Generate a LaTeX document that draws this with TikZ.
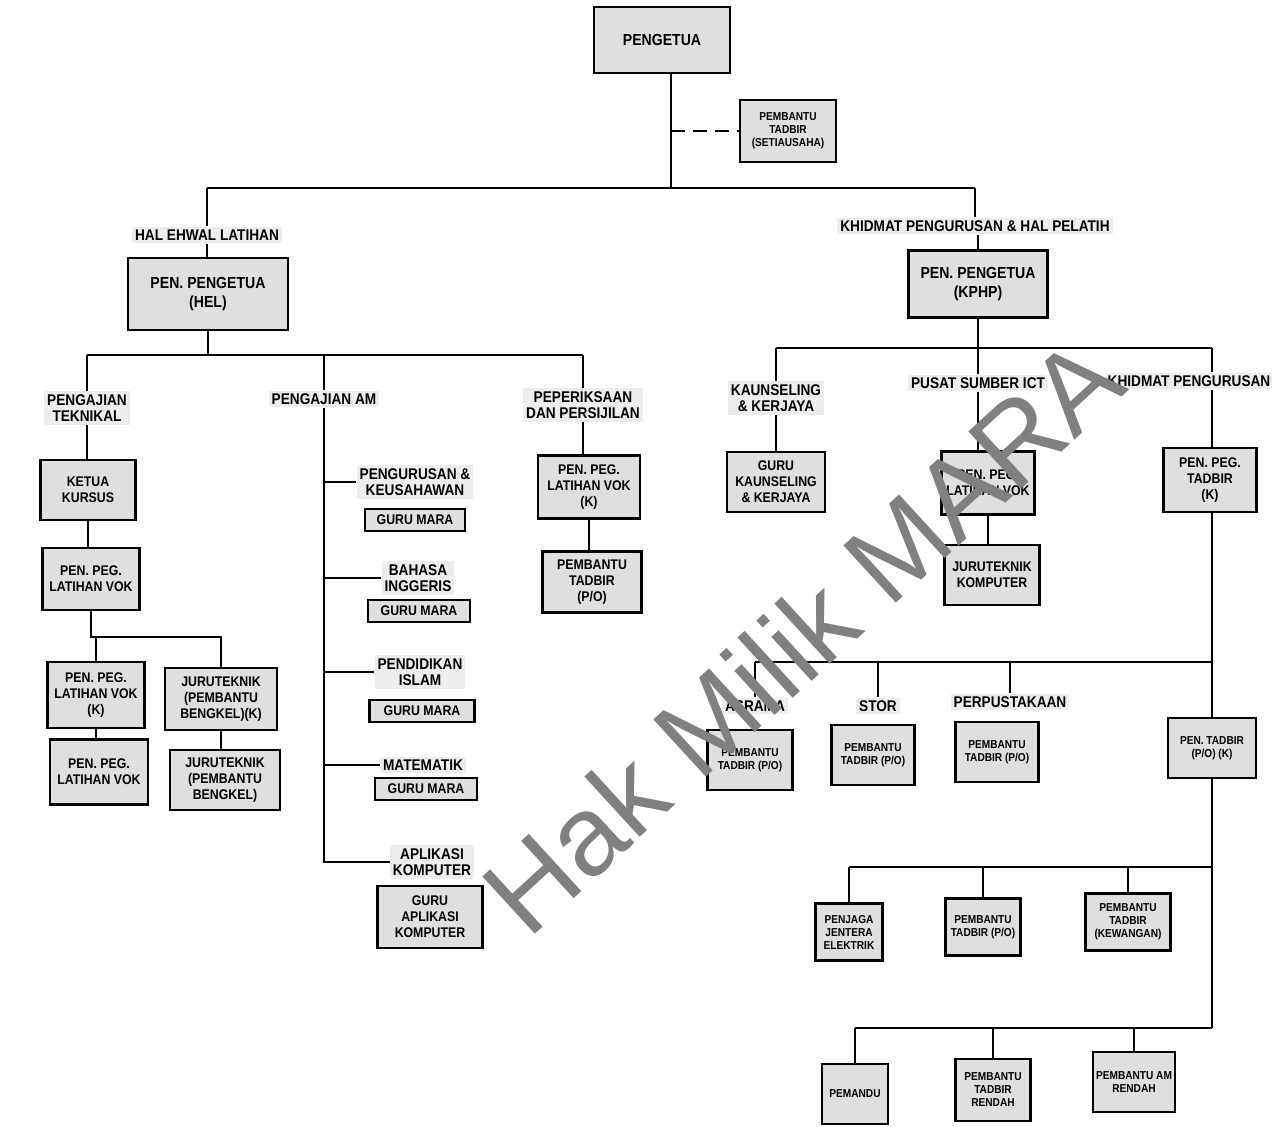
\documentclass[tikz,border=0pt]{standalone}
\usepackage{fontspec}
\setmainfont{Liberation Sans}
\newfontfamily\orgfont[FakeStretch=0.88]{Liberation Sans}
\usepackage{tikz}
\usetikzlibrary{positioning, calc}
\definecolor{tanda}{RGB}{128,128,128}
\tikzset{>=stealth}
\tikzset{
	jawatan/.style 2 args={draw, line width=2.2pt, fill=gray!25, align=center, minimum width=#1, minimum height=#2, inner sep=1pt, font=\orgfont\bfseries\fontsize{14}{16}\selectfont},
	unit/.style={fill=gray!14, align=center, inner sep=3pt, font=\orgfont\bfseries\fontsize{15.5}{16.5}\selectfont},
	besar/.style={font=\orgfont\bfseries\fontsize{16}{19}\selectfont},
	kecil/.style={font=\orgfont\bfseries\fontsize{11.5}{13}\selectfont},
	garis/.style={line width=1.6pt}
}

\begin{document}
\begin{tikzpicture}[x=1pt, y=-1pt]
	\useasboundingbox (0,0) rectangle (1273,1126);

	% pengetua
	\node[jawatan={136}{66}, besar] (pengetua) at (662,40) {PENGETUA};
	\node[jawatan={96}{62}, kecil] (pt0) at (788,131) {PEMBANTU\\TADBIR\\(SETIAUSAHA)};
	\coordinate (batang) at (671,188);
	\draw[garis] (pengetua.south -| batang) -- (batang);
	\draw[garis, dash pattern=on 14pt off 8pt] (batang |- pt0) -- (pt0.west);

	\node[unit] (hal) at (207,235) {HAL EHWAL LATIHAN};
	\node[jawatan={160}{72}, besar] (hel) at (208,294) {PEN. PENGETUA\\(HEL)};
	\node[unit] (khidmat) at (975,226) {KHIDMAT PENGURUSAN \& HAL PELATIH};
	\node[jawatan={139}{67}, besar] (kphp) at (978,284) {PEN. PENGETUA\\(KPHP)};
	\draw[garis] (batang -| hal) -- (batang -| khidmat);
	\draw[garis] (batang -| hal) -- (hal.north);
	\draw[garis] (batang -| khidmat) -- (khidmat.north);
	\draw[garis] (hal.south) -- (hal.south |- hel.north);
	\draw[garis] (khidmat.south -| kphp) -- (kphp.north);

	% hal ehwal latihan
	\coordinate (barhel) at (208,355);
	\node[unit] (teknikal) at (87,408) {PENGAJIAN\\TEKNIKAL};
	\node[unit] (am) at (324,399) {PENGAJIAN AM};
	\node[unit] (periksa) at (583,405) {PEPERIKSAAN\\DAN PERSIJILAN};
	\draw[garis] (hel.south) -- (barhel);
	\draw[garis] (teknikal |- barhel) -- (periksa |- barhel);
	\foreach \u in {teknikal, am, periksa}
		\draw[garis] (\u |- barhel) -- (\u.north);

	\node[jawatan={95}{60}] (ketua) at (88,490) {KETUA\\KURSUS};
	\node[jawatan={97}{62}] (vok1) at (91,579) {PEN. PEG.\\LATIHAN VOK};
	\coordinate (bartek) at (93,637);
	\node[jawatan={97}{66}] (vokk) at (96,695) {PEN. PEG.\\LATIHAN VOK\\(K)};
	\node[jawatan={112}{62}] (jtk) at (221,699) {JURUTEKNIK\\(PEMBANTU\\BENGKEL)(K)};
	\node[jawatan={98}{65}] (vok2) at (99,772) {PEN. PEG.\\LATIHAN VOK};
	\node[jawatan={110}{60}] (jt) at (225,780) {JURUTEKNIK\\(PEMBANTU\\BENGKEL)};
	\draw[garis] (teknikal.south) -- (teknikal.south |- ketua.north);
	\draw[garis] (ketua.south) -- (ketua.south |- vok1.north);
	\draw[garis] (vok1.south) -- (vok1.south |- bartek) -- (jtk.north |- bartek) -- (jtk.north);
	\draw[garis] (vokk.north |- bartek) -- (vokk.north);
	\draw[garis] (vokk.south) -- (vokk.south |- vok2.north);
	\draw[garis] (jtk.south) -- (jtk.south |- jt.north);

	\node[unit] (urus) at (415,482) {PENGURUSAN \&\\KEUSAHAWAN};
	\node[jawatan={100}{22}] (guru1) at (415,520) {GURU MARA};
	\node[unit] (inggeris) at (418,578) {BAHASA\\INGGERIS};
	\node[jawatan={102}{22}] (guru2) at (419,611) {GURU MARA};
	\node[unit] (islam) at (420,672) {PENDIDIKAN\\ISLAM};
	\node[jawatan={105}{22}] (guru3) at (422,711) {GURU MARA};
	\node[unit] (mate) at (423,765) {MATEMATIK};
	\node[jawatan={102}{22}] (guru4) at (426,789) {GURU MARA};
	\node[unit] (aplikasi) at (432,862) {APLIKASI\\KOMPUTER};
	\node[jawatan={105}{62}] (guru5) at (430,917) {GURU\\APLIKASI\\KOMPUTER};
	\draw[garis] (am.south) -- (am.south |- aplikasi) -- (aplikasi.west);
	\foreach \s in {urus, inggeris, islam, mate}
		\draw[garis] (am.south |- \s) -- (\s.west);

	\node[jawatan={102}{63}] (vokp) at (589,487) {PEN. PEG.\\LATIHAN VOK\\(K)};
	\node[jawatan={99}{61}] (ptp) at (592,582) {PEMBANTU\\TADBIR\\(P/O)};
	\draw[garis] (periksa.south) -- (periksa.south |- vokp.north);
	\draw[garis] (vokp.south) -- (vokp.south |- ptp.north);

	% khidmat pengurusan
	\coordinate (barkphp) at (978,348);
	\coordinate (lajur) at (1212,348);
	\node[unit] (kaunseling) at (776,398) {KAUNSELING\\\& KERJAYA};
	\node[unit] (pusat) at (978,383) {PUSAT SUMBER ICT};
	\node[unit, inner xsep=2pt] (khidmat2) at (1189,381) {KHIDMAT PENGURUSAN};
	\draw[garis] (kphp.south) -- (barkphp);
	\draw[garis] (kaunseling.north |- barkphp) -- (lajur);
	\draw[garis] (kaunseling.north |- barkphp) -- (kaunseling.north);
	\draw[garis] (barkphp) -- (pusat.north);
	\draw[garis] (lajur) -- (lajur |- khidmat2.north);

	\node[jawatan={98}{60}] (gkaun) at (776,482) {GURU\\KAUNSELING\\\& KERJAYA};
	\node[jawatan={93}{63}] (vokr) at (988,483) {PEN. PEG.\\LATIHAN VOK};
	\node[jawatan={95}{60}] (jtkomp) at (992,575) {JURUTEKNIK\\KOMPUTER};
	\node[jawatan={93}{64}] (tadbirk) at (1210,480) {PEN. PEG.\\TADBIR\\(K)};
	\draw[garis] (kaunseling.south) -- (kaunseling.south |- gkaun.north);
	\draw[garis] (pusat.south) -- (pusat.south |- vokr.north);
	\draw[garis] (vokr.south) -- (vokr.south |- jtkomp.north);
	\draw[garis] (lajur |- khidmat2.south) -- (lajur |- tadbirk.north);

	\coordinate (barasrama) at (1212,662);
	\node[unit] (asrama) at (755,706) {ASRAMA};
	\node[unit] (stor) at (878,706) {STOR};
	\node[unit] (perpus) at (1010,702) {PERPUSTAKAAN};
	\node[jawatan={85}{60}, kecil] (ptasrama) at (750,760) {PEMBANTU\\TADBIR (P/O)};
	\node[jawatan={83}{60}, kecil] (ptstor) at (873,755) {PEMBANTU\\TADBIR (P/O)};
	\node[jawatan={83}{60}, kecil] (ptperpus) at (997,752) {PEMBANTU\\TADBIR (P/O)};
	\node[jawatan={88}{60}, kecil] (tadbirpo) at (1212,748) {PEN. TADBIR\\(P/O) (K)};
	\draw[garis] (lajur |- tadbirk.south) -- (lajur |- tadbirpo.north);
	\draw[garis] (asrama |- barasrama) -- (barasrama);
	\foreach \u in {asrama, stor, perpus}
		\draw[garis] (\u |- barasrama) -- (\u.north);

	\coordinate (barbengkel) at (1212,867);
	\coordinate (barrendah) at (1212,1028);
	\node[jawatan={67}{57}, kecil] (jentera) at (849,932) {PENJAGA\\JENTERA\\ELEKTRIK};
	\node[jawatan={75}{57}, kecil] (ptpo) at (983,927) {PEMBANTU\\TADBIR (P/O)};
	\node[jawatan={85}{57}, kecil] (ptwang) at (1128,922) {PEMBANTU\\TADBIR\\(KEWANGAN)};
	\node[jawatan={66}{60}, kecil] (pemandu) at (855,1094) {PEMANDU};
	\node[jawatan={75}{62}, kecil] (ptrendah) at (993,1090) {PEMBANTU\\TADBIR\\RENDAH};
	\node[jawatan={82}{60}, kecil] (pam) at (1134,1082) {PEMBANTU AM\\RENDAH};
	\draw[garis] (lajur |- tadbirpo.south) -- (barrendah);
	\draw[garis] (jentera |- barbengkel) -- (barbengkel);
	\draw[garis] (pemandu |- barrendah) -- (barrendah);
	\foreach \k in {jentera, ptpo, ptwang}
		\draw[garis] (\k |- barbengkel) -- (\k.north);
	\foreach \k in {pemandu, ptrendah, pam}
		\draw[garis] (\k |- barrendah) -- (\k.north);

	\node[text=tanda, font=\fontsize{113}{113}\selectfont, rotate=42.5, inner sep=0pt] (milik) at (802,635) {Hak Milik MARA};
\end{tikzpicture}
\end{document}
